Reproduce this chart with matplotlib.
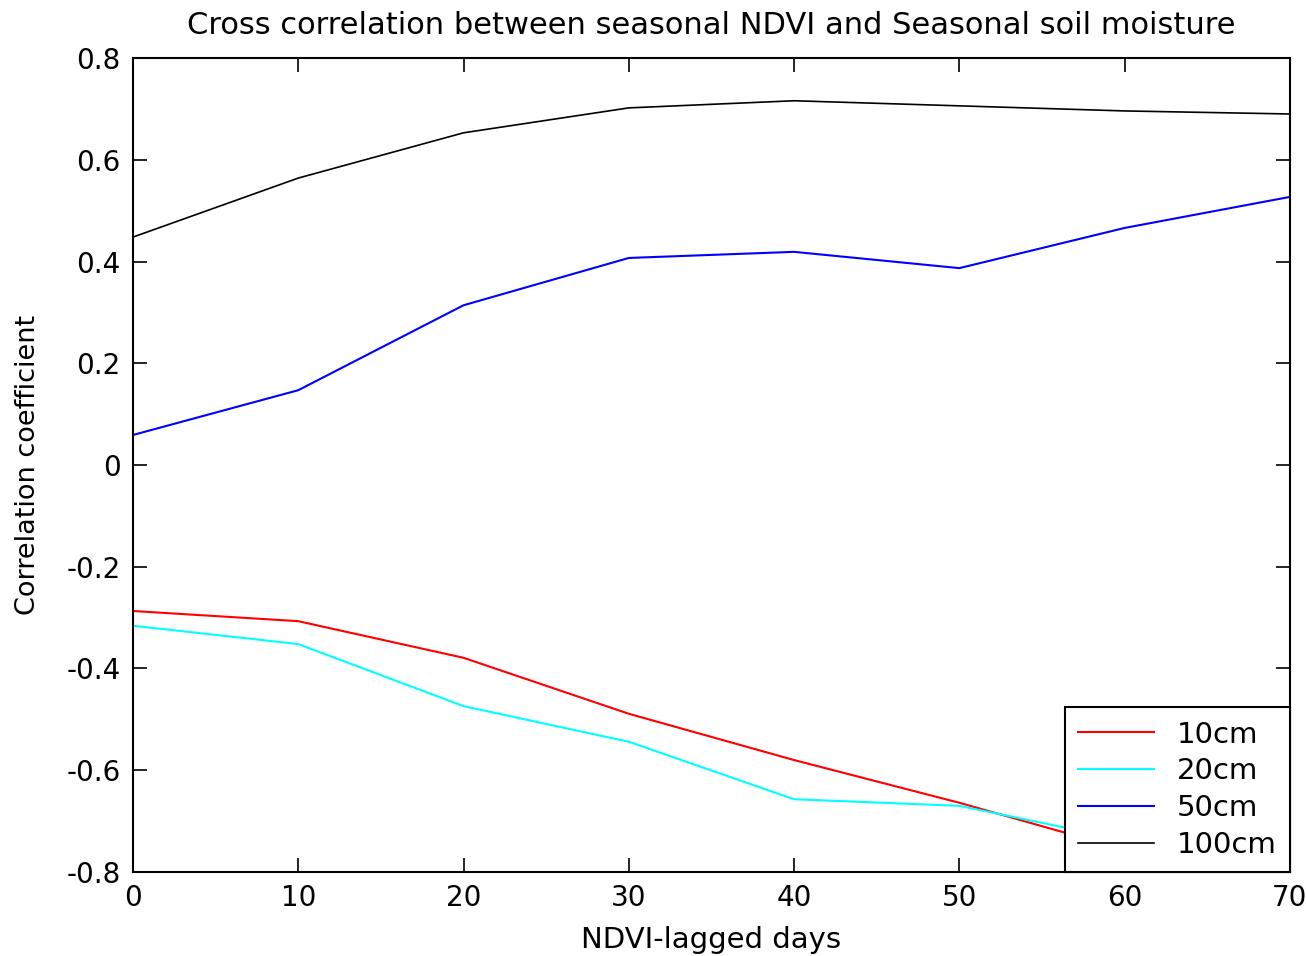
import matplotlib
matplotlib.use("Agg")
import matplotlib.pyplot as plt

lag_days = [0, 10, 20, 30, 40, 50, 60, 70]
corr_10cm = [-0.287, -0.307, -0.379, -0.489, -0.580, -0.664, -0.756, -0.785]
corr_20cm = [-0.316, -0.352, -0.474, -0.544, -0.657, -0.670, -0.737, -0.770]
corr_50cm = [0.059, 0.147, 0.314, 0.407, 0.419, 0.387, 0.466, 0.527]
corr_100cm = [0.448, 0.564, 0.653, 0.702, 0.716, 0.706, 0.696, 0.690]

plt.rcParams["font.family"] = ["DejaVu Sans"]

fig = plt.figure(figsize=(13.06, 9.56), dpi=100)
ax = fig.add_axes([0.1018, 0.0879, 0.8859, 0.8514])

ax.plot(lag_days, corr_10cm, color="red", lw=1.5, label="10cm")
ax.plot(lag_days, corr_20cm, color="cyan", lw=1.5, label="20cm")
ax.plot(lag_days, corr_50cm, color="blue", lw=1.5, label="50cm")
ax.plot(lag_days, corr_100cm, color="black", lw=1.2, label="100cm")

ax.set_xlim(0, 70)
ax.set_ylim(-0.8, 0.8)
ax.set_xticks(range(0, 71, 10))
ax.set_yticks([-0.8, -0.6, -0.4, -0.2, 0, 0.2, 0.4, 0.6, 0.8])
ax.set_yticklabels(["-0.8", "-0.6", "-0.4", "-0.2", "0", "0.2", "0.4", "0.6", "0.8"])
ax.tick_params(direction="in", length=10, width=1.2, top=True, right=True,
               labelsize=20, pad=9)
for s in ax.spines.values():
    s.set_linewidth(1.5)

ax.set_title("Cross correlation between seasonal NDVI and Seasonal soil moisture",
             fontsize=22, pad=17)
ax.set_xlabel("NDVI-lagged days", fontsize=21, labelpad=10)
ax.set_ylabel("Correlation coefficient", fontsize=19.5, labelpad=18)

leg = ax.legend(loc="lower right", fontsize=21, fancybox=False, framealpha=1,
                edgecolor="black", borderaxespad=0, handlelength=2.6,
                labelspacing=0.3, borderpad=0.45)
leg.get_frame().set_linewidth(1.5)

fig.savefig("out.png", dpi=100)
